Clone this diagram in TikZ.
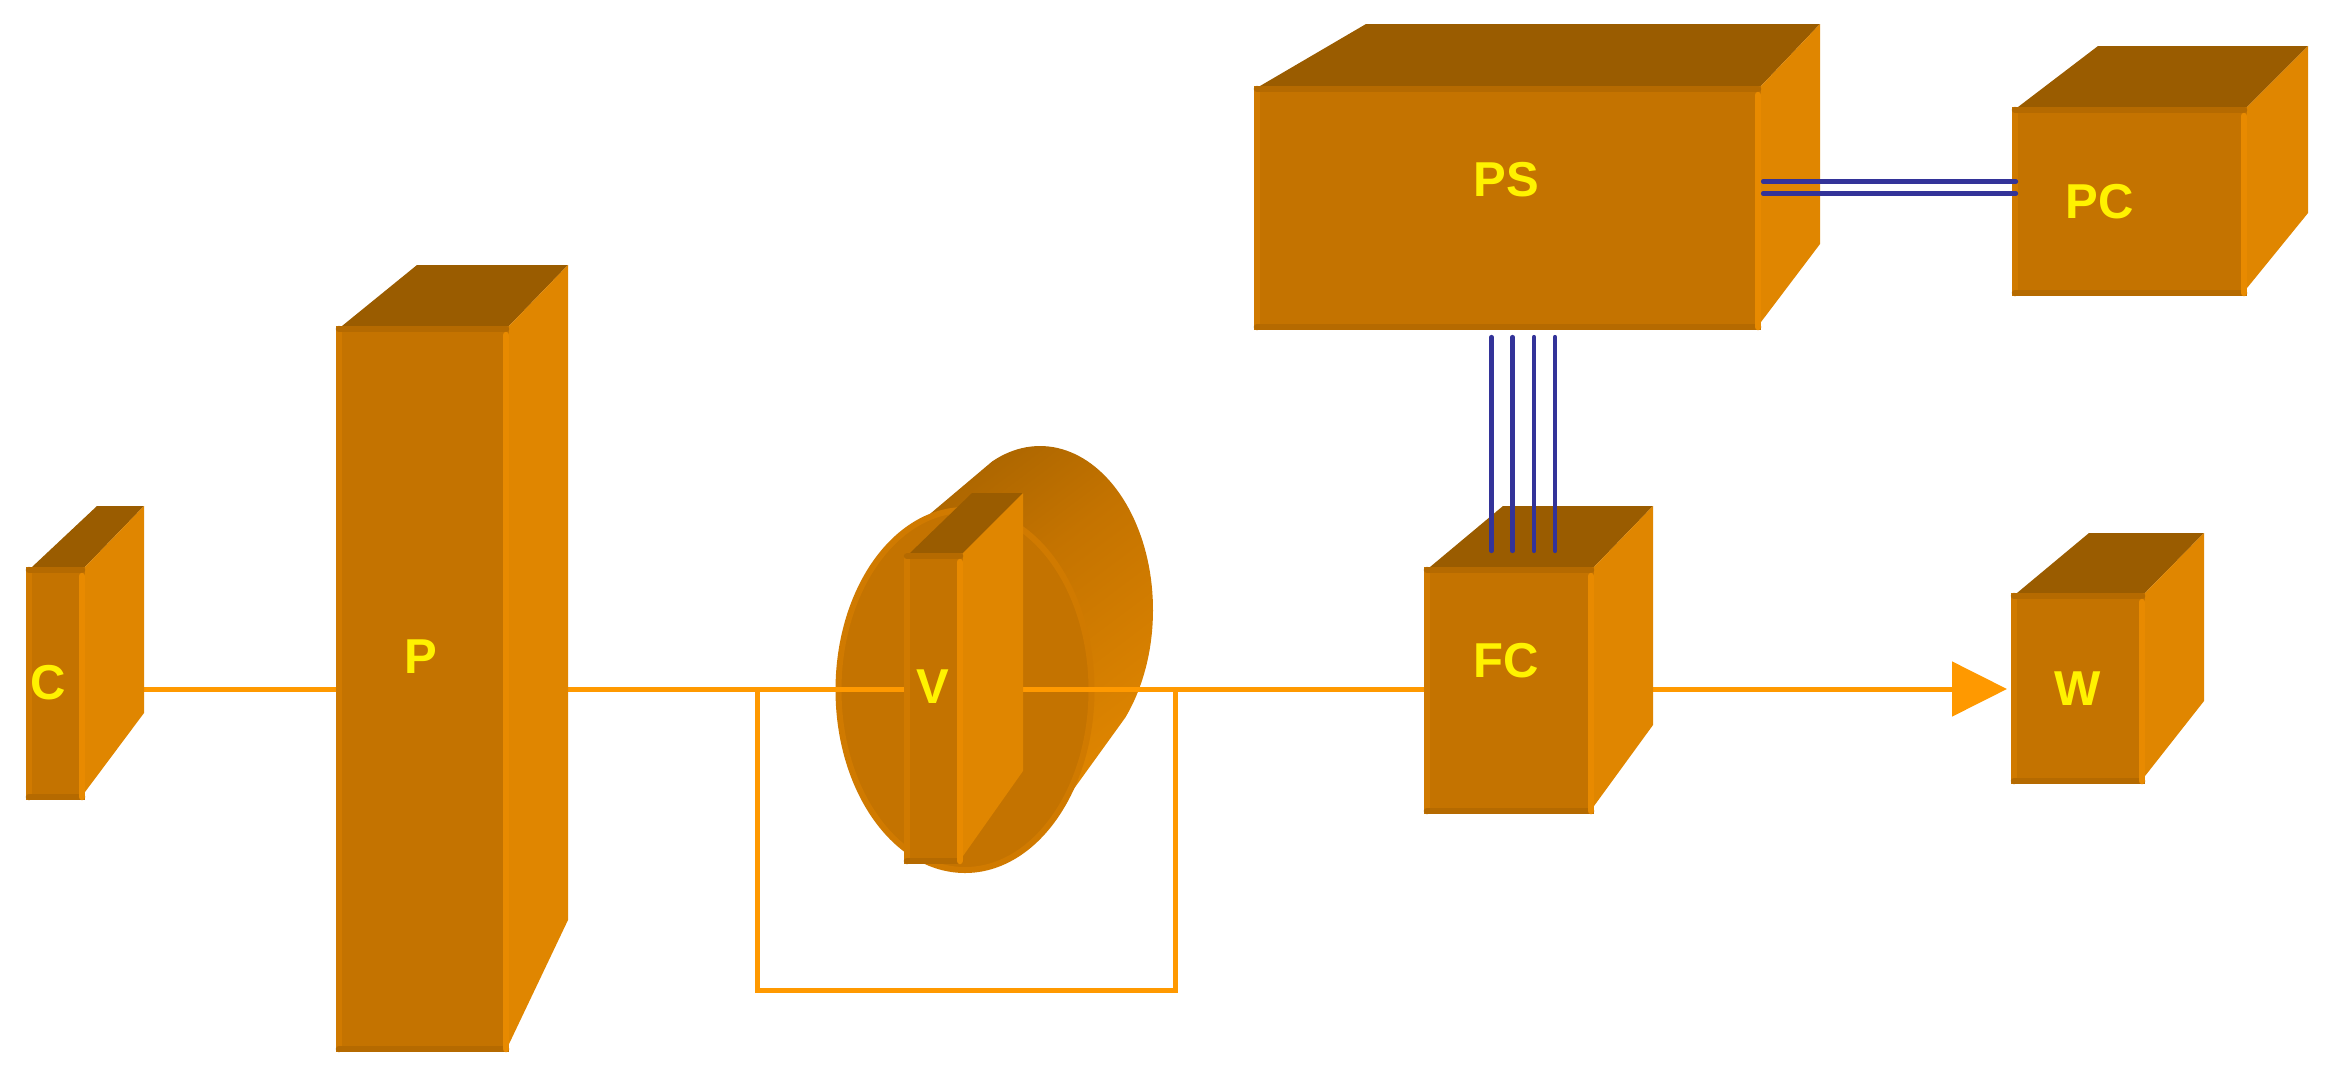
\documentclass[tikz,border=0pt]{standalone}
\usepackage{fontspec}
\setmainfont{Liberation Sans}
\usetikzlibrary{arrows.meta,shapes.geometric}
\definecolor{cfront}{HTML}{C47300}
\definecolor{cleft}{HTML}{D07A00}
\definecolor{cright}{HTML}{E88A00}
\definecolor{cedge}{HTML}{B56A00}
\definecolor{ctop}{HTML}{9A5C00}
\definecolor{cside}{HTML}{E08600}
\definecolor{cflow}{HTML}{FF9900}
\definecolor{cblue}{HTML}{333399}
\pgfdeclarelayer{cyl}
\pgfdeclarelayer{wires}
\pgfsetlayers{cyl,wires,main}
\pgfdeclareverticalshading{cylshade}{100bp}{
  color(0bp)=(cfront);
  color(14bp)=(cfront);
  color(20bp)=(ctop);
  color(45bp)=(cfront);
  color(72bp)=(cside);
  color(86bp)=(cside);
  color(100bp)=(cside)}
\tikzset{
  flow/.style={draw=cflow,line width=5pt},
  busline/.style={draw=cblue,line width=4.2pt,line cap=round},
  boxlabel/.style={font=\fontsize{49}{49}\selectfont\bfseries,text=yellow,inner sep=0pt},
  frontface/.style={fill=cfront,inner sep=0pt,outer sep=0pt},
  strip/.style={line width=6.5pt,line cap=round},
}
% name, L, T, R, B, backL, backR, backT, sideBottom
\newcommand{\cuboid}[9]{%
  \fill[ctop] (#2+6,#3) -- (#6,#8) -- (#7,#8) -- (#4,#3) -- cycle;
  \fill[cside] (#4,#3) -- (#7,#8) -- (#7,#9) -- (#4,#5-8) -- cycle;
  \node[frontface,minimum width={(#4-#2)*1pt},minimum height={(#5-#3)*1pt}] (#1) at ({(#2+#4)/2},{(#3+#5)/2}) {};
  \draw[strip,cleft] (#2+3,#3+3) -- (#2+3,#5-3);
  \draw[strip,cedge] (#2+3,#3+3) -- (#4-3,#3+3);
  \draw[strip,cedge] (#2+3,#5-3) -- (#4-3,#5-3);
  \draw[strip,cright] (#4-3,#3+9) -- (#4-3,#5-3);
}
\begin{document}
\begin{tikzpicture}[x=1pt,y=-1pt]
\useasboundingbox (0,0) rectangle (2333,1079);
\coordinate (axis) at (0,689);
% boxes
\cuboid{c}{26}{567}{85}{800}{97}{144}{506}{713}
\cuboid{p}{336}{326}{509}{1052}{417}{568}{265}{920}
\cuboid{v}{904}{553}{963}{864}{972}{1023}{493}{771}
\cuboid{fc}{1424}{567}{1594}{814}{1503}{1653}{506}{725}
\cuboid{ps}{1254}{86}{1761}{330}{1366}{1820}{24}{244}
\cuboid{pc}{2012}{107}{2247}{296}{2098}{2308}{46}{213}
\cuboid{w}{2011}{593}{2145}{784}{2089}{2204}{533}{701}
% labels
\node[boxlabel] (cl) at (48,683) {C};
\node[boxlabel] (pl) at (421,657) {P};
\node[boxlabel] (vl) at (933,687) {V};
\node[boxlabel] (fcl) at (1506,661) {FC};
\node[boxlabel] (psl) at (1506,180) {PS};
\node[boxlabel] (pcl) at (2100,202) {PC};
\node[boxlabel] (wl) at (2078,689) {W};
% cylinder behind V
\begin{pgfonlayer}{cyl}
\begin{scope}
  \clip plot[domain=-115:41,samples=70] ({1040+113*cos(\x)},{610+164*sin(\x)})
     -- plot[domain=35:253,samples=90] ({965+128*cos(\x)},{690+182*sin(\x)}) -- cycle;
  \shade[shading=cylshade,shading angle=-143] (860,390) rectangle (1260,790);
\end{scope}
\node[ellipse,draw=cleft,fill=cfront,line width=6pt,inner sep=0pt,minimum width=253pt,minimum height=360pt] (vd) at (965,690) {};
\end{pgfonlayer}
% main flow connectors
\begin{pgfonlayer}{wires}
\coordinate (loopa) at (757,689);
\coordinate (loopb) at (757,990);
\coordinate (loopc) at (1175,990);
\coordinate (loopd) at (1175,689);
\draw[flow] (c.east |- axis) -- (p.west |- axis);
\draw[flow] (p.east |- axis) -- (v.west |- axis);
\draw[flow] (v.east |- axis) -- (fc.west |- axis);
\draw[flow,-{Triangle[length=55pt,width=54pt,fill=cflow]},shorten >=4pt] (fc.east |- axis) -- (w.west |- axis);
\draw[flow] (loopa) -- (loopb) -- (loopc) -- (loopd);
\end{pgfonlayer}
% bus lines
\draw[busline] ([shift={(-16,7)}]ps.south) -- ([shift={(-17.5,-16)}]fc.north);
\draw[busline] ([shift={(5,7)}]ps.south) -- ([shift={(3.5,-16)}]fc.north);
\draw[busline] ([shift={(26.5,7)}]ps.south) -- ([shift={(25,-16)}]fc.north);
\draw[busline] ([shift={(47.5,7)}]ps.south) -- ([shift={(46,-16)}]fc.north);
\draw[busline] ([shift={(2,-26.5)}]ps.east) -- ([shift={(4,-20)}]pc.west);
\draw[busline] ([shift={(2,-14.5)}]ps.east) -- ([shift={(4,-8)}]pc.west);
\end{tikzpicture}
\end{document}
